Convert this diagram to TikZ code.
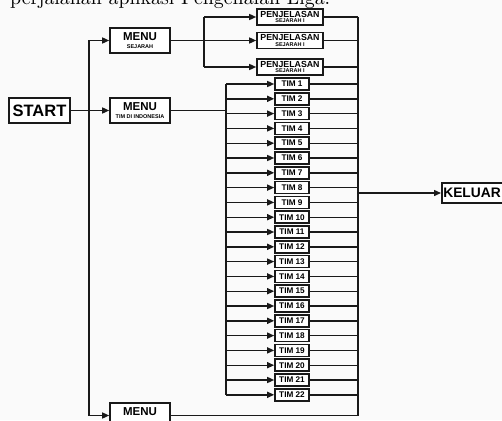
\documentclass[tikz,border=0pt]{standalone}
\usepackage{fontspec}
\usepackage{graphicx}
\newfontfamily\boxfont{Liberation Sans}
\usetikzlibrary{arrows.meta}
\definecolor{bg}{RGB}{250,250,250}
\definecolor{ink}{RGB}{25,25,25}
\tikzset{
  box/.style={draw=ink, line width=1.6pt, fill=white, inner sep=0pt, align=center, font=\boxfont\bfseries},
  conn/.style={line width=1.4pt, draw=ink},
  arr/.style={conn, -{Triangle[length=7pt,width=6pt]}},
  menubox/.style={box, minimum width=60, minimum height=25, font=\boxfont\bfseries\fontsize{11.5}{8}\selectfont},
  pbox/.style={box, minimum width=66, minimum height=16, font=\boxfont\bfseries\fontsize{8.8}{5.8}\selectfont},
  timbox/.style={box, minimum width=34, minimum height=12, font=\boxfont\bfseries\fontsize{8.2}{8.2}\selectfont},
}
\newcommand{\smallt}[1]{{\fontsize{5.5}{5.5}\selectfont #1}}
\begin{document}
\begin{tikzpicture}[x=1pt,y=-1pt]
\useasboundingbox (0,0) rectangle (502,420);
\clip (0,0) rectangle (502,420);
\fill[bg] (0,0) rectangle (502,420);
% caption text, cut off at the top as in the source
\node[anchor=base west, inner sep=0pt] (cap) at (10,4.5) {\resizebox{320pt}{!}{perjalanan aplikasi Pengenalan Liga.}};
% boxes
\node[box, minimum width=61, minimum height=25, font=\boxfont\bfseries\fontsize{16.5}{16.5}\selectfont] (start) at (39.5,110.5) {START};
\node[menubox] (ms) at (140,40.5) {MENU\\\smallt{SEJARAH}};
\node[menubox] (mt) at (140,110.5) {MENU\\\smallt{TIM DI INDONESIA}};
\node[menubox] (mb) at (140,415.5) {MENU\\\smallt{\phantom{X}}};
\node[pbox] (p1) at (290,17) {PENJELASAN\\\smallt{SEJARAH I}};
\node[pbox] (p2) at (290,40.5) {PENJELASAN\\\smallt{SEJARAH I}};
\node[pbox] (p3) at (290,67) {PENJELASAN\\\smallt{SEJARAH I}};
\foreach \i in {1,...,22} {
  \node[timbox] (t\i) at (292,{84+14.8*(\i-1)}) {TIM \i};
}
\node[box, anchor=west, inner xsep=1.5pt, minimum height=20, font=\boxfont\bfseries\fontsize{13.8}{13.8}\selectfont] (kel) at (441,193) {KELUAR};
% bus coordinates
\coordinate (lx) at (89,0);
\coordinate (sx) at (204,0);
\coordinate (tx) at (226,0);
\coordinate (rx) at (358,0);
% left main bus
\draw[conn] (ms.west -| lx) -- (mb.west -| lx);
\draw[arr] (ms.west -| lx) -- (ms.west);
\draw[arr] (start.east) -- (mt.west);
\draw[arr] (mb.west -| lx) -- (mb.west);
% sejarah branch
\draw[arr] (ms.east) -- (p2.west);
\draw[conn] (p1.west -| sx) -- (p3.west -| sx);
\draw[arr] (p1.west -| sx) -- (p1.west);
\draw[arr] (p3.west -| sx) -- (p3.west);
% tim branch
\draw[conn] (mt.east) -- (mt.east -| tx);
\draw[conn] (t1.west -| tx) -- (t22.west -| tx);
\foreach \i in {1,...,22} {
  \draw[arr] (t\i.west -| tx) -- (t\i.west);
  \draw[conn] (t\i.east) -- (t\i.east -| rx);
}
% right bus
\draw[conn] (p1.east -| rx) -- (mb.east -| rx);
\foreach \p in {p1,p2,p3} {
  \draw[conn] (\p.east) -- (\p.east -| rx);
}
\draw[conn] (mb.east) -- (mb.east -| rx);
\draw[arr] (kel.west -| rx) -- (kel.west);
\end{tikzpicture}
\end{document}
